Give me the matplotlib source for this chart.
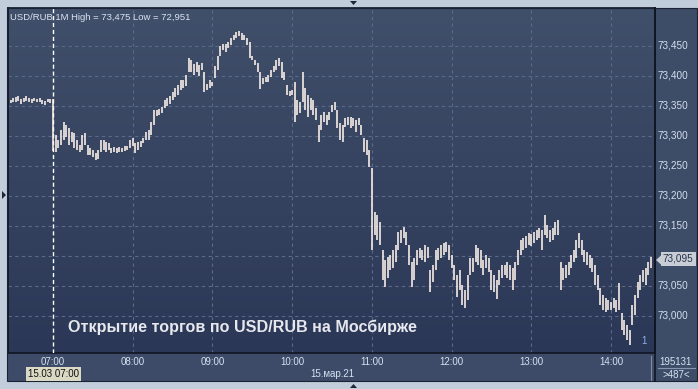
import matplotlib
matplotlib.use("Agg")
import matplotlib.pyplot as plt
import numpy as np
import pandas as pd
from matplotlib.patches import Rectangle, Polygon

plt.rcParams["font.family"] = ["Liberation Sans", "DejaVu Sans"]

# 2-minute bars, USD/RUB, 15.03.2021 (prices in 1/1000 RUB)
bar_times = pd.date_range("2021-03-15 06:28", periods=242, freq="2min")
lows = [
    73355, 73357, 73356, 73358, 73354, 73356, 73359, 73357, 73355, 73358, 73356, 73357, 73353, 73352, 73356, 73355,
    73275, 73273, 73280, 73285, 73293, 73298, 73285, 73290, 73280, 73277, 73273, 73277, 73285, 73268, 73268, 73265,
    73260, 73262, 73273, 73277, 73273, 73277, 73272, 73273, 73272, 73273, 73273, 73275, 73277, 73280, 73283, 73272,
    73277, 73282, 73288, 73293, 73293, 73302, 73318, 73333, 73335, 73338, 73347, 73350, 73353, 73360, 73365, 73368,
    73377, 73380, 73383, 73407, 73407, 73402, 73407, 73400, 73410, 73373, 73377, 73380, 73383, 73397, 73410, 73433,
    73443, 73440, 73447, 73452, 73460, 73463, 73467, 73460, 73460, 73452, 73430, 73427, 73418, 73407, 73378, 73387,
    73390, 73390, 73398, 73407, 73410, 73417, 73397, 73393, 73368, 73367, 73368, 73323, 73335, 73338, 73357, 73343,
    73332, 73343, 73335, 73327, 73290, 73310, 73323, 73318, 73327, 73340, 73343, 73313, 73293, 73290, 73315, 73318,
    73313, 73317, 73307, 73318, 73302, 73273, 73268, 73248, 73110, 73135, 73127, 73118, 73060, 73048, 73063, 73077,
    73080, 73090, 73110, 73122, 73130, 73118, 73085, 73048, 73060, 73085, 73097, 73093, 73090, 73097, 73040, 73057,
    73077, 73093, 73097, 73102, 73107, 73093, 73080, 73060, 73032, 73043, 73018, 73013, 73027, 73068, 73073, 73090,
    73085, 73080, 73068, 73080, 73073, 73043, 73040, 73028, 73052, 73063, 73068, 73063, 73060, 73043, 73060, 73085,
    73102, 73110, 73113, 73118, 73117, 73122, 73127, 73130, 73110, 73135, 73130, 73123, 73127, 73135, 73135, 73043,
    73060, 73063, 73068, 73080, 73090, 73097, 73113, 73102, 73090, 73085, 73080, 73073, 73052, 73043, 73018, 73010,
    73007, 73010, 73010, 73013, 73007, 73010, 72977, 72968, 72960, 72951, 72985, 73002, 73030, 73043, 73057, 73052,
    73068, 73080,
]
highs = [
    73360, 73363, 73365, 73366, 73362, 73364, 73367, 73363, 73361, 73364, 73362, 73363, 73360, 73358, 73362, 73361,
    73361, 73302, 73293, 73310, 73323, 73318, 73313, 73307, 73305, 73293, 73285, 73302, 73305, 73285, 73280, 73277,
    73272, 73277, 73293, 73293, 73290, 73288, 73280, 73282, 73280, 73282, 73280, 73283, 73283, 73293, 73297, 73288,
    73290, 73292, 73297, 73307, 73310, 73323, 73343, 73343, 73345, 73348, 73360, 73363, 73367, 73373, 73380, 73385,
    73393, 73393, 73402, 73430, 73427, 73420, 73423, 73418, 73422, 73407, 73387, 73393, 73390, 73417, 73433, 73450,
    73453, 73453, 73457, 73463, 73468, 73473, 73475, 73472, 73468, 73463, 73457, 73433, 73427, 73422, 73407, 73397,
    73398, 73402, 73410, 73417, 73427, 73430, 73423, 73407, 73385, 73375, 73377, 73390, 73360, 73357, 73407, 73380,
    73368, 73363, 73360, 73347, 73318, 73335, 73340, 73335, 73340, 73352, 73357, 73343, 73322, 73318, 73330, 73332,
    73332, 73330, 73327, 73330, 73318, 73297, 73293, 73277, 73247, 73173, 73168, 73157, 73110, 73093, 73098, 73102,
    73110, 73118, 73140, 73143, 73148, 73140, 73118, 73090, 73097, 73110, 73113, 73110, 73118, 73115, 73077, 73085,
    73110, 73113, 73118, 73122, 73123, 73118, 73102, 73085, 73068, 73077, 73052, 73043, 73068, 73097, 73097, 73118,
    73113, 73110, 73093, 73102, 73097, 73077, 73068, 73060, 73077, 73085, 73085, 73090, 73085, 73080, 73090, 73110,
    73127, 73130, 73133, 73138, 73137, 73140, 73143, 73147, 73143, 73168, 73152, 73143, 73147, 73157, 73160, 73090,
    73080, 73085, 73090, 73102, 73110, 73127, 73138, 73127, 73110, 73107, 73102, 73097, 73085, 73068, 73047, 73035,
    73030, 73027, 73023, 73030, 73027, 73055, 73005, 72993, 72985, 72977, 73018, 73035, 73057, 73068, 73077, 73080,
    73090, 73098,
]
last_price = 73.095
price_ticks = [73.000, 73.050, 73.100, 73.150, 73.200, 73.250, 73.300, 73.350, 73.400, 73.450]
hour_labels = ["07:00", "08:00", "09:00", "10:00", "11:00", "12:00", "13:00", "14:00"]

W, H = 698, 389
fig = plt.figure(figsize=(W / 100, H / 100), dpi=100)
fig.patch.set_facecolor("#c2cddc")


def fx(px):
    return px / W


def fy(py):
    return 1 - py / H


# panels around the plot (drawn beneath the axes)
fig.add_artist(Rectangle((fx(655), fy(381)), fx(42), 373 / H, transform=fig.transFigure,
                         facecolor="#3d4c67", edgecolor="none", zorder=-2))
fig.add_artist(Rectangle((fx(8), fy(381)), fx(647), 28 / H, transform=fig.transFigure,
                         facecolor="#3d4b68", edgecolor="none", zorder=-2))

ax = fig.add_axes([fx(8), fy(353), fx(647), 345 / H])
t0 = pd.Timestamp("2021-03-15 07:00")
x = (bar_times - t0).total_seconds().to_numpy() / 60
lo = np.array(lows) / 1000
hi = np.array(highs) / 1000

grad = np.linspace(0, 1, 256)[:, None]
top, bot = np.array([0x40, 0x4f, 0x6a]) / 255, np.array([0x2b, 0x37, 0x56]) / 255
img = top[None, None, :] * (1 - grad[:, :, None]) + bot[None, None, :] * grad[:, :, None]
ax.imshow(img, extent=[0, 1, 0, 1], transform=ax.transAxes, aspect="auto", zorder=0)

ax.set_xlim(-33.9, 453.1)
ax.set_ylim(72.9383, 73.5133)
for p in price_ticks:
    ax.axhline(p, color="#5a6a88", lw=0.8, ls=(0, (3, 3)), zorder=1)
for h in range(1, 8):
    ax.axvline(h * 60, color="#5a6a88", lw=0.8, ls=(0, (3, 3)), zorder=1)
ax.axvline(0, color="white", lw=1.0, ls=(0, (3, 2)), zorder=3)

ax.vlines(x, lo, hi, color="#fff3ec", lw=1.15, zorder=4)

ax.set_xticks([])
ax.set_yticks([])
for s in ax.spines.values():
    s.set_color("#101522")
    s.set_linewidth(1.2)

ax.text(0.003, 0.985, "USD/RUB 1M High = 73,475 Low = 72,951", transform=ax.transAxes,
        ha="left", va="top", fontsize=6.8, color="#dbe4f1", zorder=5)
ax.text(0.0935, 0.075, "Открытие торгов по USD/RUB на Мосбирже", transform=ax.transAxes,
        ha="left", va="center", fontsize=11.6, fontweight="bold", color="#e6e8ee", zorder=5)
ax.text(0.983, 0.02, "1", transform=ax.transAxes, ha="center", va="bottom",
        fontsize=7, color="#8fb2e6", zorder=5)

# right price scale
for p in price_ticks:
    if abs(p - 73.100) < 1e-6:
        continue
    ax.annotate(f"{p:.3f}".replace(".", ","), xy=(1, p), xycoords=("axes fraction", "data"),
                xytext=(3, 0), textcoords="offset pixels", ha="left", va="center",
                fontsize=7.2, color="#d3deee", annotation_clip=False)
ax.annotate(f"{last_price:.3f}".replace(".", ","), xy=(1, last_price), xycoords=("axes fraction", "data"),
            xytext=(8, 0), textcoords="offset pixels", ha="left", va="center", fontsize=7.2,
            color="#26324a", annotation_clip=False,
            bbox=dict(boxstyle="square,pad=0.2", facecolor="#c9ced6", edgecolor="none"))
fig.add_artist(Polygon([(fx(656), fy(260)), (fx(662), fy(254.5)), (fx(662), fy(265.5))],
                       closed=True, transform=fig.transFigure, facecolor="#c9ced6", edgecolor="none"))

# time axis labels
for i, lab in enumerate(hour_labels):
    ax.annotate(lab, xy=(i * 60, 0), xycoords=("data", "axes fraction"), xytext=(0, -9),
                textcoords="offset pixels", ha="center", va="center", fontsize=7,
                color="#d6e2f2", annotation_clip=False)
fig.text(fx(332), fy(374), "15.мар.21", ha="center", va="center", fontsize=7, color="#d6e2f2")
fig.text(fx(53.5), fy(374), "15.03 07:00", ha="center", va="center", fontsize=7, color="#111111",
         bbox=dict(boxstyle="square,pad=0.2", facecolor="#d9d9c4", edgecolor="none"))
fig.text(fx(676), fy(362), "195131", ha="center", va="center", fontsize=7, color="#d6e2f2")
fig.text(fx(676), fy(374.5), ">487<", ha="center", va="center", fontsize=7, color="#d6e2f2")
fig.add_artist(plt.Line2D([fx(658), fx(695)], [fy(368), fy(368)], transform=fig.transFigure,
                          color="#8796b0", lw=0.8))
fig.add_artist(plt.Line2D([fx(651), fx(651)], [fy(356), fy(380)], transform=fig.transFigure,
                          color="#7f8ca4", lw=0.8))
fig.add_artist(plt.Line2D([fx(655), fx(655)], [fy(8), fy(381)], transform=fig.transFigure,
                          color="#101522", lw=1.2))
fig.add_artist(Rectangle((fx(7.5), fy(381)), fx(689.5), 373.5 / H, transform=fig.transFigure,
                         facecolor="none", edgecolor="#1a2233", lw=0.8))

# small arrow markers on the frame
fig.add_artist(Polygon([(fx(350), fy(1)), (fx(357), fy(1)), (fx(353.5), fy(5))], closed=True,
                       transform=fig.transFigure, facecolor="#1e2636", edgecolor="none"))
fig.add_artist(Polygon([(fx(2), fy(191)), (fx(2), fy(199)), (fx(6), fy(195))], closed=True,
                       transform=fig.transFigure, facecolor="#1e2636", edgecolor="none"))
fig.add_artist(Polygon([(fx(350), fy(388)), (fx(357), fy(388)), (fx(353.5), fy(384))], closed=True,
                       transform=fig.transFigure, facecolor="#1e2636", edgecolor="none"))

fig.savefig("out.png", dpi=100, facecolor=fig.get_facecolor())
